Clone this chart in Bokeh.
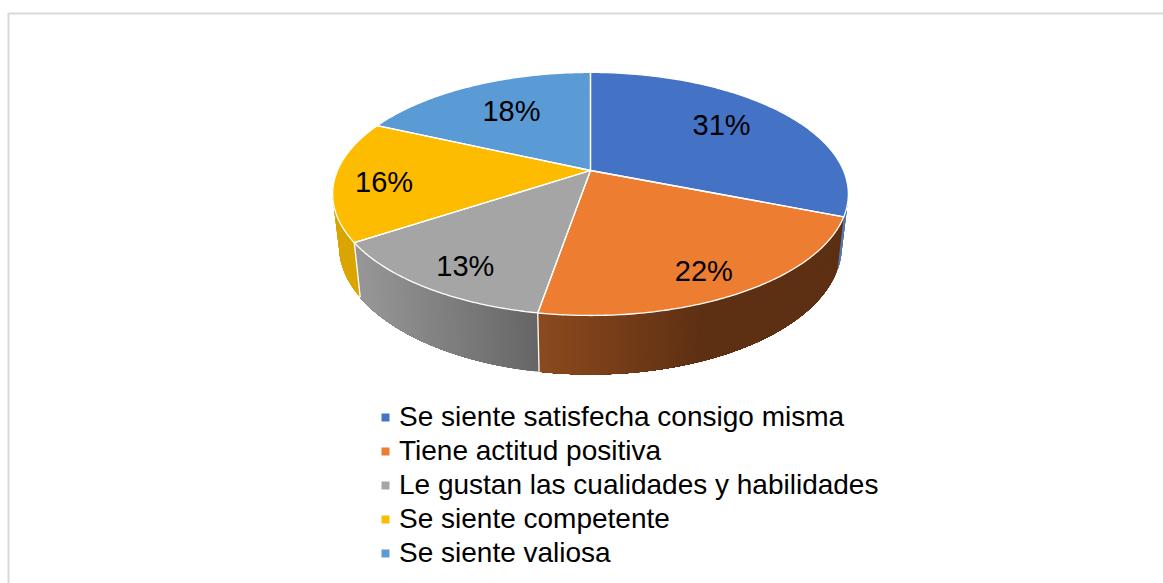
import numpy as np
from bokeh.embed import file_html
from bokeh.resources import INLINE
from bokeh.plotting import figure
from bokeh.models import Range1d, Legend, LegendItem
from bokeh.core.properties import value

categories = ["Se siente satisfecha consigo misma", "Tiene actitud positiva",
              "Le gustan las cualidades y habilidades", "Se siente competente", "Se siente valiosa"]
shares = [31.0, 21.7, 13.0, 16.1, 18.2]
labels = ["31%", "22%", "13%", "16%", "18%"]

top_colors = ["#4472c4", "#ed7d31", "#a5a5a5", "#fdbc00", "#5b9bd5"]
# side wall shading: x_left, colour_left, x_right, colour_right
side_shade = [(830, (86, 120, 172), 850, (86, 120, 172)),
              (537, (140, 74, 30), 700, (94, 48, 19)),
              (360, (150, 150, 150), 537, (102, 102, 102)),
              (330, (219, 165, 0), 360, (219, 165, 0)),
              (330, (66, 116, 160), 340, (66, 116, 160))]
label_offsets = [(-5, -3), (15, 20), (-16, 18), (-28, 5), (7, 2)]

# projection of the tilted disc
CX, CY, A, B, K = 590.0, 170.0, 253.0, 117.0, 0.193
DEPTH, SCALE, LABEL_R = 50.5, 0.975, 0.7


def top_pt(theta, r=1.0):
    u, v = r * np.sin(theta), r * np.cos(theta)
    d = 1 + K * v
    return CX + A * u / d, CY - B * v / d


def bottom_pt(theta):
    u, v = np.sin(theta), np.cos(theta)
    d = 1 + K * v
    return CX + SCALE * A * u / d, CY - SCALE * B * v / d + DEPTH / d


edges = np.concatenate([[0], np.cumsum(shares)]) / sum(shares) * 2 * np.pi

p = figure(width=1163, height=583, x_range=Range1d(0, 1163), y_range=Range1d(583, 0),
           toolbar_location=None, output_backend="svg", min_border=0,
           outline_line_color=None, background_fill_color="white", border_fill_color="white")
p.axis.visible = False
p.grid.visible = False

# chart frame
p.line([8, 8, 1163], [583, 13, 13], line_color="#d9d9d9", line_width=2)

# side wall as fine overlapping strips
VIS_A, VIS_B = 1.8, 3 * np.pi / 2 + 0.1
xs, ys, cols = [], [], []
for i in range(len(shares)):
    a0, a1 = max(edges[i], VIS_A), min(edges[i + 1], VIS_B)
    if a1 <= a0:
        continue
    th = np.linspace(a0, a1, max(2, int((a1 - a0) / 0.012) + 1))
    xl, cl, xr, cr = side_shade[i]
    tail = th[-1]
    for t0, t1 in zip(th[:-1], th[1:]):
        xm = top_pt((t0 + t1) / 2)[0]
        f = np.clip((xm - xl) / (xr - xl), 0, 1)
        c = [int(round(cl[k] + f * (cr[k] - cl[k]))) for k in range(3)]
        tt = np.linspace(t0, tail, 60)
        tx, ty = top_pt(tt)
        bx, by = bottom_pt(tt)
        xs.append(np.concatenate([tx, bx[::-1]]).tolist())
        ys.append(np.concatenate([ty, by[::-1]]).tolist())
        cols.append("#%02x%02x%02x" % tuple(c))
p.patches(xs, ys, fill_color=cols, line_color=None)

# seams on the side wall
sx, sy = [], []
for i in range(1, len(shares)):
    if VIS_A < edges[i] < VIS_B and edges[i] > 2.5:
        x0, y0 = top_pt(edges[i])
        x1, y1 = bottom_pt(edges[i])
        sx.append([x0, x1])
        sy.append([y0, y1])
p.multi_line(sx, sy, line_color="white", line_width=1.3)

# top slices
items = []
ox, oy = [], []
for i, cat in enumerate(categories):
    th = np.linspace(edges[i], edges[i + 1], 120)
    x, y = top_pt(th)
    px_ = np.concatenate([[CX], x])
    py_ = np.concatenate([[CY], y])
    r = p.patch(px_, py_, fill_color=top_colors[i], line_color=None)
    items.append(LegendItem(label=cat, renderers=[r]))
    ox.append(list(px_) + [CX])
    oy.append(list(py_) + [CY])
p.multi_line(ox, oy, line_color="white", line_width=1.3, line_join="round")

# data labels
lx, ly = [], []
for i in range(len(shares)):
    mx, my = top_pt((edges[i] + edges[i + 1]) / 2, LABEL_R)
    lx.append(mx + label_offsets[i][0])
    ly.append(my + label_offsets[i][1])
p.text(lx, ly, text=labels, text_font=value("Liberation Sans"), text_font_size="29px",
       text_color="#000000", text_align="center", text_baseline="middle")

legend = Legend(items=items, location=(380, 14), orientation="vertical",
                glyph_width=10, glyph_height=10, label_standoff=9, spacing=2, padding=0, margin=0,
                label_text_font="Liberation Sans", label_text_font_size="28px",
                label_text_color="#000000", background_fill_alpha=0, border_line_color=None)
p.add_layout(legend, "center")

open("out.html", "w").write(file_html(p, INLINE))
